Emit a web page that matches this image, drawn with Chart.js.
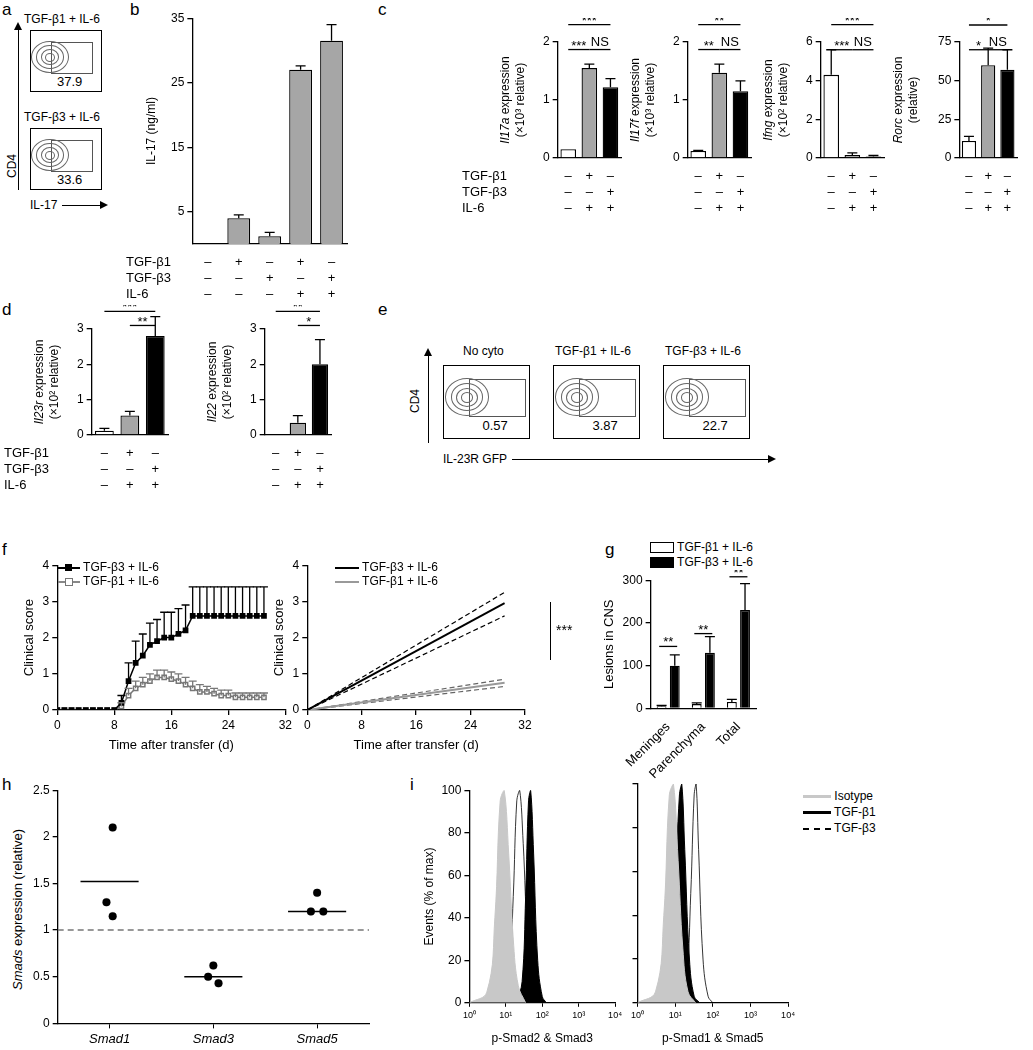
<!DOCTYPE html>
<html><head><meta charset="utf-8">
<script src="https://cdn.jsdelivr.net/npm/chart.js@4/dist/chart.umd.min.js"></script>
<style>
body{margin:0;width:1033px;height:1050px;background:#fff;position:relative;font-family:"Liberation Sans",Arial,sans-serif;overflow:hidden}
.t{position:absolute;font-size:12px;color:#000;white-space:nowrap}
.L{position:absolute;font-size:17px}
.box{position:absolute;border:1px solid #000;background:#fff}
.gate{position:absolute;border:1px solid #555}
.el{position:absolute;border:1px solid #666;border-radius:50%}
canvas{position:absolute}
</style></head><body>
<script>
// ---------- DATA ----------
const signRowLabels=["TGF-β1","TGF-β3","IL-6"];
const signs5=[["–","+","–","+","–"],["–","–","+","–","+"],["–","–","–","+","+"]];
const signs3=[["–","+","–"],["–","–","+"],["–","+","+"]];
const il17Vals=[0,4,1.2,27,31.5], il17Errs=[0,0.5,0.6,0.6,2.5];
const il17aVals=[0.15,1.55,1.22], il17aErrs=[0,0.07,0.15];
const il17fVals=[0.12,1.47,1.15], il17fErrs=[0.01,0.15,0.18];
const ifngVals=[4.3,0.15,0.08], ifngErrs=[1.3,0.12,0.05];
const rorcVals=[11,60,57], rorcErrs=[3,11,13];
const il23rVals=[0.12,0.55,2.8], il23rErrs=[0.07,0.12,0.55];
const il22Vals=[0,0.35,2.0], il22Errs=[0,0.2,0.7];
const flowA=["37.9","33.6"], flowE=["0.57","3.87","22.7"], flowETitles=["No cyto","TGF-β1 + IL-6","TGF-β3 + IL-6"];
const days=[0,1,2,3,4,5,6,7,8,9,10,11,12,13,14,15,16,17,18,19,20,21,22,23,24,25,26,27,28,29];
const scoreB3=[0,0,0,0,0,0,0,0,0,0.2,0.8,1.3,1.5,1.8,1.9,2.0,2.0,2.1,2.2,2.6,2.6,2.6,2.6,2.6,2.6,2.6,2.6,2.6,2.6,2.6];
const errB3=[0,0,0,0,0,0,0,0,0,0.2,0.5,0.6,0.6,0.6,0.6,0.7,0.7,0.7,0.7,0.8,0.8,0.8,0.8,0.8,0.8,0.8,0.8,0.8,0.8,0.8];
const scoreB1=[0,0,0,0,0,0,0,0,0,0.1,0.4,0.6,0.7,0.8,0.9,0.9,0.85,0.8,0.7,0.6,0.5,0.5,0.45,0.4,0.4,0.35,0.35,0.35,0.35,0.35];
const errB1=[0,0,0,0,0,0,0,0,0,0.1,0.2,0.2,0.2,0.2,0.2,0.2,0.2,0.2,0.2,0.2,0.2,0.15,0.15,0.15,0.15,0.12,0.12,0.12,0.12,0.12];
const fitX=[0,29], fitB3=[0,2.95], fitB3hi=[0,3.25], fitB3lo=[0,2.6], fitB1=[0,0.75], fitB1hi=[0,0.85], fitB1lo=[0,0.65];
const lesionCats=["Meninges","Parenchyma","Total"];
const lesB1=[5,10,15], lesB1e=[2,3,6], lesB3=[100,130,230], lesB3e=[25,38,62];
const smadCats=["Smad1","Smad3","Smad5"];
const smadPts=[[2.1,1.3,1.15],[0.62,0.5,0.43],[1.4,1.2,1.2]];
const smadMean=[1.52,0.5,1.2];
const hL_iso=[[1,0],[3,5],[5,40],[7,95],[9,100],[12,70],[16,30],[22,8],[35,0]];
const hL_b1=[[20,0],[28,10],[35,50],[42,95],[48,100],[58,70],[75,20],[100,3],[130,0]];
const hL_b3=[[8,0],[12,10],[16,50],[20,95],[24,100],[30,75],[40,30],[60,5],[90,0]];
const hR_iso=[[1,0],[3,5],[5,40],[7,95],[9,100],[12,65],[16,25],[22,5],[35,0]];
const hR_b1=[[5,0],[8,10],[10,50],[13,95],[15,100],[18,70],[24,20],[32,3],[45,0]];
const hR_b3=[[14,0],[20,10],[26,50],[32,95],[36,100],[42,70],[55,20],[75,3],[100,0]];

// ---------- helpers ----------
const F='"Liberation Sans", Arial, sans-serif';
Chart.defaults.font.family=F; Chart.defaults.font.size=12; Chart.defaults.color='#000';
Chart.defaults.animation=false;
function cv(l,t,w,h){const c=document.createElement('canvas');c.width=w;c.height=h;c.style.left=l+'px';c.style.top=t+'px';c.style.width=w+'px';c.style.height=h+'px';document.body.appendChild(c);return c.getContext('2d');}
function txt(s,l,t,extra){const d=document.createElement('div');d.className='t';d.style.left=l+'px';d.style.top=t+'px';if(extra)d.style.cssText+=extra;d.innerHTML=s;document.body.appendChild(d);return d;}
function lab(s,l,t){const d=document.createElement('div');d.className='L';d.style.left=l+'px';d.style.top=t+'px';d.textContent=s;document.body.appendChild(d);}
const axY=(min,max,ticks,extra)=>Object.assign({min,max,afterBuildTicks:s=>{s.ticks=ticks.map(v=>({value:v}));},grid:{drawOnChartArea:false,color:'#000',tickLength:5,lineWidth:1.3},border:{color:'#000',width:1.3},ticks:{font:{size:12},padding:3}},extra||{});
const extras={id:'extras',afterDatasetsDraw(ch,a,o){const ctx=ch.ctx;ctx.save();ctx.strokeStyle='#000';ctx.fillStyle='#000';ctx.lineWidth=1.3;
 ch.data.datasets.forEach((ds,di)=>{if(!ds.errs)return;const m=ch.getDatasetMeta(di);m.data.forEach((el,i)=>{const e=ds.errs[i];if(!e)return;const v=ds.data[i];const y0=ch.scales.y.getPixelForValue(typeof v==='object'?v.y:v);const y1=ch.scales.y.getPixelForValue((typeof v==='object'?v.y:v)+e);const hw=ds.capW||5;ctx.strokeStyle=ds.errColor||'#000';ctx.beginPath();ctx.moveTo(el.x,y0);ctx.lineTo(el.x,y1);ctx.moveTo(el.x-hw,y1);ctx.lineTo(el.x+hw,y1);ctx.stroke();});});
 const ca=ch.chartArea,xs=ch.scales.x;ctx.strokeStyle='#000';
 if(o.signs){ctx.font='13px '+F;ctx.textAlign='center';ctx.textBaseline='middle';o.signs.forEach((row,r)=>{const y=ca.bottom+(o.signTop||18)+r*16;row.forEach((s,i)=>ctx.fillText(s,xs.getPixelForValue(i),y));if(o.rowLabels){ctx.textAlign='left';ctx.fillText(o.rowLabels[r],o.rowLabelX,y);ctx.textAlign='center';}});}
 if(o.brackets){ctx.font='13px '+F;ctx.textAlign='center';ctx.textBaseline='bottom';o.brackets.forEach(b=>{const y=ch.scales.y.getPixelForValue(b[2]);const x1=xs.getPixelForValue(b[0])-(b[4]||0),x2=xs.getPixelForValue(b[1])+(b[4]||0);ctx.beginPath();ctx.moveTo(x1,y);ctx.lineTo(x2,y);ctx.stroke();ctx.fillText(b[3],(x1+x2)/2,y+(b[3]==='NS'?-1:3));});}
 if(o.ytitle){ctx.save();ctx.translate(o.ytitle.x,(ca.top+ca.bottom)/2);ctx.rotate(-Math.PI/2);ctx.textBaseline='middle';o.ytitle.lines.forEach((ln,li)=>{let w=0;ln.forEach(s=>{ctx.font=(s[1]?'italic ':'')+'12px '+F;w+=ctx.measureText(s[0]).width;});let x=-w/2;ln.forEach(s=>{ctx.font=(s[1]?'italic ':'')+'12px '+F;ctx.textAlign='left';ctx.fillText(s[0],x,li*15);x+=ctx.measureText(s[0]).width;});});ctx.restore();}
 ctx.restore();}};
Chart.register(extras);
const bcols=['#fff','#a6a6a6','#000'];
function bar(c){const ctx=cv(c.l,c.t,c.w,c.h);
 return new Chart(ctx,{type:'bar',data:{labels:c.vals.map((_,i)=>i),datasets:[{data:c.vals,errs:c.errs,backgroundColor:c.colors||bcols,borderColor:'#000',borderWidth:1.3,barPercentage:0.82,categoryPercentage:0.9}]},
 options:{responsive:false,layout:{padding:{left:c.padL,bottom:c.padB,top:c.padT||4,right:4}},plugins:{legend:{display:false},tooltip:{enabled:false},extras:{signs:c.signs,rowLabels:c.rowLabels,rowLabelX:c.rowLabelX,brackets:c.brackets,ytitle:c.ytitle}},
 scales:{x:{ticks:{display:false},grid:{display:false},border:{color:'#000',width:1.3}},y:axY(c.min,c.max,c.ticks)}}});}

// ---------- panel a ----------
lab('a',2,0);
function flow(l,t,w,h,num,gx,gw,cx){const b=document.createElement('div');b.className='box';b.style.cssText+=`left:${l}px;top:${t}px;width:${w}px;height:${h}px`;document.body.appendChild(b);
 const g=document.createElement('div');g.className='gate';g.style.cssText+=`left:${gx}px;top:${h*0.18}px;width:${gw}px;height:${h*0.5}px`;b.appendChild(g);
 [[0.42,0.5],[0.3,0.36],[0.2,0.24],[0.1,0.12]].forEach(s=>{const e=document.createElement('div');e.className='el';const ew=w*s[0]*1.2,eh=h*s[1];e.style.cssText+=`left:${cx-ew/2}px;top:${h*0.42-eh/2}px;width:${ew}px;height:${eh}px`;b.appendChild(e);});
 const tt=document.createElement('div');tt.className='t';tt.style.cssText=`left:${gx+gw/2-14}px;top:${h*0.72}px;font-size:13px`;tt.textContent=num;b.appendChild(tt);}
txt('TGF-β1 + IL-6',24,12);flow(30,30,70,60,flowA[0],20,40,18);
txt('TGF-β3 + IL-6',24,110);flow(30,128,70,60,flowA[1],20,40,18);
txt('CD4',5,150,'transform:rotate(-90deg);transform-origin:left top;top:178px');
txt('IL-17',30,198);
document.body.insertAdjacentHTML('beforeend','<div style="position:absolute;left:18px;top:28px;width:1px;height:162px;background:#000"></div><div style="position:absolute;left:14px;top:22px;border:4px solid transparent;border-bottom:8px solid #000;border-top:0"></div><div style="position:absolute;left:62px;top:205px;width:40px;height:1px;background:#000"></div><div style="position:absolute;left:100px;top:201px;border:4px solid transparent;border-left:8px solid #000;border-right:0"></div>');

// ---------- panel b ----------
lab('b',130,0);
bar({l:126,t:8,w:225,h:300,vals:il17Vals,errs:il17Errs,colors:['#a6a6a6','#a6a6a6','#a6a6a6','#a6a6a6','#a6a6a6'],min:0,max:35,ticks:[5,15,25,35],padL:42,padB:56,signs:signs5,rowLabels:signRowLabels,rowLabelX:0,ytitle:{x:26,lines:[[['IL-17 (ng/ml)',0]]]}});

// ---------- panel c ----------
lab('c',378,0);
bar({l:460,t:18,w:165,h:210,vals:il17aVals,errs:il17aErrs,min:0,max:2,ticks:[0,1,2],padL:80,padB:62,padT:24,signs:signs3,rowLabels:signRowLabels,rowLabelX:2,brackets:[[0,2,2.3,'***'],[0,1,1.87,'***'],[1,2,1.87,'NS']],ytitle:{x:46,lines:[[['Il17a',1],[' expression',0]],[['(×10³ relative)',0]]]}});
bar({l:630,t:18,w:125,h:210,vals:il17fVals,errs:il17fErrs,min:0,max:2,ticks:[0,1,2],padL:40,padB:62,padT:24,signs:signs3,brackets:[[0,2,2.3,'**'],[0,1,1.87,'**'],[1,2,1.87,'NS']],ytitle:{x:6,lines:[[['Il17f',1],[' expression',0]],[['(×10³ relative)',0]]]}});
bar({l:763,t:18,w:125,h:210,vals:ifngVals,errs:ifngErrs,min:0,max:6,ticks:[0,2,4,6],padL:40,padB:62,padT:24,signs:signs3,brackets:[[0,2,6.9,'***'],[0,1,5.6,'***'],[1,2,5.6,'NS']],ytitle:{x:6,lines:[[['Ifng',1],[' expression',0]],[['(×10² relative)',0]]]}});
bar({l:893,t:18,w:128,h:210,vals:rorcVals,errs:rorcErrs,min:0,max:75,ticks:[0,25,50,75],padL:42,padB:62,padT:24,signs:signs3,brackets:[[0,2,86,'*'],[0,1,70,'*'],[1,2,70,'NS']],ytitle:{x:6,lines:[[['Rorc',1],[' expression',0]],[['(relative)',0]]]}});

// ---------- panel d ----------
lab('d',2,300);
bar({l:2,t:305,w:170,h:200,vals:il23rVals,errs:il23rErrs,min:0,max:3,ticks:[0,1,2,3],padL:72,padB:62,padT:24,signs:signs3,rowLabels:signRowLabels,rowLabelX:2,brackets:[[0,2,3.5,'***'],[1,2,3.1,'**']],ytitle:{x:38,lines:[[['Il23r',1],[' expression',0]],[['(×10² relative)',0]]]}});
bar({l:195,t:305,w:140,h:200,vals:il22Vals,errs:il22Errs,min:0,max:3,ticks:[0,1,2,3],padL:52,padB:62,padT:24,signs:signs3,brackets:[[0,2,3.5,'**'],[1,2,3.1,'*']],ytitle:{x:18,lines:[[['Il22',1],[' expression',0]],[['(×10² relative)',0]]]}});

// ---------- panel e ----------
lab('e',378,300);
[0,1,2].forEach(i=>{const l=443+i*110;txt(flowETitles[i],l+(i?2:20),344);flow(l,365,85,72,flowE[i],25,55,22);});
txt('CD4',408,413,'transform:rotate(-90deg);transform-origin:left top');
txt('IL-23R GFP',443,452);
document.body.insertAdjacentHTML('beforeend','<div style="position:absolute;left:428px;top:355px;width:1px;height:88px;background:#000"></div><div style="position:absolute;left:424px;top:348px;border:4px solid transparent;border-bottom:8px solid #000;border-top:0"></div><div style="position:absolute;left:512px;top:459px;width:258px;height:1px;background:#000"></div><div style="position:absolute;left:768px;top:455px;border:4px solid transparent;border-left:8px solid #000;border-right:0"></div>');

// ---------- panel f ----------
lab('f',2,540);
const xLin=(min,max,ticks,title)=>({type:'linear',min,max,afterBuildTicks:s=>{s.ticks=ticks.map(v=>({value:v}));},grid:{drawOnChartArea:false,color:'#000',tickLength:5,lineWidth:1.3},border:{color:'#000',width:1.3},title:{display:!!title,text:title,font:{size:13},padding:2}});
const pts=(xs,ys)=>xs.map((x,i)=>({x,y:ys[i]}));
new Chart(cv(20,555,275,200),{type:'line',data:{datasets:[
 {data:pts(days,scoreB3),errs:errB3,borderColor:'#000',backgroundColor:'#000',pointStyle:'rect',pointRadius:3,borderWidth:1.5,capW:4},
 {data:pts(days,scoreB1),errs:errB1,borderColor:'#777',backgroundColor:'#fff',pointStyle:'rect',pointRadius:3,pointBorderColor:'#777',borderWidth:1.5,capW:4,errColor:'#777'}]},
 options:{responsive:false,layout:{padding:{left:0,right:8,top:6}},plugins:{legend:{display:false},tooltip:{enabled:false}},
 scales:{x:xLin(0,32,[0,8,16,24,32],'Time after transfer (d)'),y:Object.assign(axY(0,4,[0,1,2,3,4]),{title:{display:true,text:'Clinical score',font:{size:13},padding:2}})}}});
new Chart(cv(270,555,280,200),{type:'line',data:{datasets:[
 {data:pts(fitX,fitB3),borderColor:'#000',borderWidth:2,pointRadius:0},
 {data:pts(fitX,fitB3hi),borderColor:'#000',borderWidth:1.2,borderDash:[5,3],pointRadius:0},
 {data:pts(fitX,fitB3lo),borderColor:'#000',borderWidth:1.2,borderDash:[5,3],pointRadius:0},
 {data:pts(fitX,fitB1),borderColor:'#999',borderWidth:2,pointRadius:0},
 {data:pts(fitX,fitB1hi),borderColor:'#666',borderWidth:1.2,borderDash:[5,3],pointRadius:0},
 {data:pts(fitX,fitB1lo),borderColor:'#666',borderWidth:1.2,borderDash:[5,3],pointRadius:0}]},
 options:{responsive:false,layout:{padding:{left:0,right:25,top:6}},plugins:{legend:{display:false},tooltip:{enabled:false}},
 scales:{x:xLin(0,32,[0,8,16,24,32],'Time after transfer (d)'),y:Object.assign(axY(0,4,[0,1,2,3,4]),{title:{display:true,text:'Clinical score',font:{size:13},padding:2}})}}});
document.body.insertAdjacentHTML('beforeend','<div style="position:absolute;left:550px;top:602px;width:1px;height:58px;background:#000"></div>');
txt('***',556,622,'font-size:14px');
txt('<span style="display:inline-block;width:22px;border-top:2px solid #000;vertical-align:middle;position:relative"><span style="position:absolute;left:7px;top:-5px;width:7px;height:7px;background:#000"></span></span> TGF-β3 + IL-6',58,560);
txt('<span style="display:inline-block;width:22px;border-top:2px solid #888;vertical-align:middle;position:relative"><span style="position:absolute;left:7px;top:-5px;width:6px;height:6px;background:#fff;border:1px solid #777"></span></span> TGF-β1 + IL-6',58,574);
txt('<span style="display:inline-block;width:24px;border-top:2px solid #000;vertical-align:middle"></span> TGF-β3 + IL-6',335,560);
txt('<span style="display:inline-block;width:24px;border-top:2px solid #999;vertical-align:middle"></span> TGF-β1 + IL-6',335,574);

// ---------- panel g ----------
lab('g',605,540);
new Chart(cv(600,570,160,215),{type:'bar',data:{labels:lesionCats,datasets:[
 {data:lesB1,errs:lesB1e,backgroundColor:'#fff',borderColor:'#000',borderWidth:1.3,barPercentage:0.75,categoryPercentage:0.75},
 {data:lesB3,errs:lesB3e,backgroundColor:'#000',borderColor:'#000',borderWidth:1.3,barPercentage:0.75,categoryPercentage:0.75}]},
 options:{responsive:false,layout:{padding:{top:4,right:4}},plugins:{legend:{display:false},tooltip:{enabled:false},extras:{brackets:[[0,0,145,'**',9],[1,1,175,'**',9],[2,2,308,'**',9]]}},
 scales:{x:{grid:{display:false},border:{color:'#000',width:1.3},ticks:{maxRotation:45,minRotation:45,font:{size:13}}},y:Object.assign(axY(0,300,[0,100,200,300]),{title:{display:true,text:'Lesions in CNS',font:{size:13},padding:2}})}}});
txt('<span style="display:inline-block;width:22px;height:9px;border:1px solid #000;background:#fff;vertical-align:middle"></span> TGF-β1 + IL-6',650,540);
txt('<span style="display:inline-block;width:22px;height:9px;border:1px solid #000;background:#000;vertical-align:middle"></span> TGF-β3 + IL-6',650,555);

// ---------- panel h ----------
lab('h',2,775);
const jit=[[0.03,-0.03,0.03],[0,-0.05,0.05],[0,-0.06,0.06]];
const hDs=[];
smadPts.forEach((arr,ci)=>{hDs.push({type:'scatter',data:arr.map((y,k)=>({x:ci+1+jit[ci][k],y})),backgroundColor:'#000',pointRadius:4});});
smadMean.forEach((m,ci)=>hDs.push({type:'line',data:[{x:ci+0.72,y:m},{x:ci+1.28,y:m}],borderColor:'#000',borderWidth:1.5,pointRadius:0}));
hDs.push({type:'line',data:[{x:0.5,y:1},{x:3.5,y:1}],borderColor:'#777',borderWidth:1.5,borderDash:[6,4],pointRadius:0});
new Chart(cv(30,780,345,270),{type:'scatter',data:{datasets:hDs},options:{responsive:false,layout:{padding:{right:6,top:6}},plugins:{legend:{display:false},tooltip:{enabled:false}},
 scales:{x:{type:'linear',min:0.5,max:3.5,afterBuildTicks:s=>{s.ticks=[1,2,3].map(v=>({value:v}));},ticks:{callback:v=>smadCats[v-1],font:{size:13,style:'italic'}},grid:{drawOnChartArea:false,color:'#000',tickLength:5},border:{color:'#000',width:1.3}},
 y:axY(0,2.5,[0,0.5,1,1.5,2,2.5],{ticks:{callback:v=>String(v)}})}}});
txt('<i>Smads</i> expression (relative)',10,990,'transform:rotate(-90deg);transform-origin:left top;font-size:13px');

// ---------- panel i ----------
lab('i',410,775);
const hx=(t)=>({type:'logarithmic',min:1,max:10000,afterBuildTicks:s=>{s.ticks=[1,10,100,1000,10000].map(v=>({value:v}));},ticks:{callback:v=>['10⁰','10¹','10²','10³','10⁴'][Math.round(Math.log10(v))],font:{size:9}},grid:{drawOnChartArea:false,color:'#000',tickLength:4},border:{color:'#000',width:1.3},title:{display:true,text:t,font:{size:12},padding:{top:8}}});
function hist(l,w,iso,b1,b3,showY,t){const ds=[
 {data:iso.map(p=>({x:p[0],y:p[1]})),fill:'origin',backgroundColor:'#c8c8c8',borderColor:'#c8c8c8',borderWidth:1,pointRadius:0,tension:0.4},
 {data:b1.map(p=>({x:p[0],y:p[1]})),fill:'origin',backgroundColor:'#000',borderColor:'#000',borderWidth:1,pointRadius:0,tension:0.4},
 {data:b3.map(p=>({x:p[0],y:p[1]})),fill:false,borderColor:'#000',borderWidth:0.8,pointRadius:0,tension:0.4}];
 new Chart(cv(l,780,w,270),{type:'line',data:{datasets:ds},options:{responsive:false,layout:{padding:{right:8,top:4}},plugins:{legend:{display:false},tooltip:{enabled:false}},
 scales:{x:hx(t),y:axY(0,100,[0,20,40,60,80,100],{ticks:{display:showY,font:{size:12}},title:{display:showY,text:'Events (% of max)',font:{size:12},padding:2}})}}});}
hist(420,205,hL_iso,hL_b1,hL_b3,true,'p-Smad2 & Smad3');
hist(628,170,hR_iso,hR_b1,hR_b3,false,'p-Smad1 & Smad5');
txt('<span style="display:inline-block;width:28px;border-top:3px solid #c8c8c8;vertical-align:middle"></span> Isotype',803,789);
txt('<span style="display:inline-block;width:28px;border-top:3px solid #000;vertical-align:middle"></span> TGF-β1',803,805);
txt('<span style="display:inline-block;width:28px;border-top:2px dashed #000;vertical-align:middle"></span> TGF-β3',803,821);
</script>
</body></html>
